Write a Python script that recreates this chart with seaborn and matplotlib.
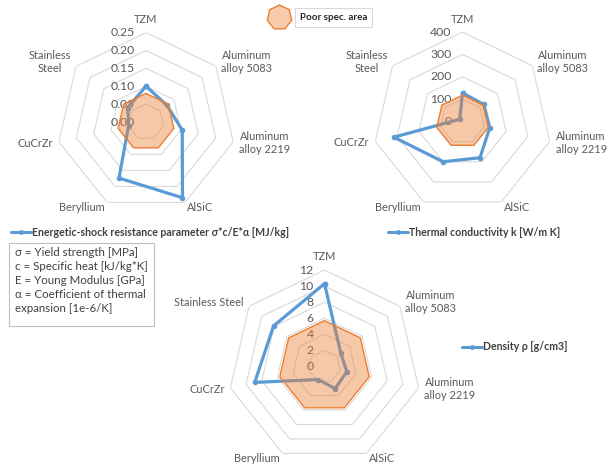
import numpy as np
import pandas as pd
import matplotlib
matplotlib.use("Agg")
import matplotlib.pyplot as plt
import matplotlib.transforms as mtrans
from matplotlib.lines import Line2D
from matplotlib.patches import Rectangle
from matplotlib.font_manager import FontProperties
import seaborn as sns

# ---------------- data ----------------
labels_top = ["TZM", "Aluminum\nalloy 5083", "Aluminum\nalloy 2219", "AlSiC",
              "Beryllium", "CuCrZr", "Stainless\nSteel"]
labels_bottom = ["TZM", "Aluminum\nalloy 5083", "Aluminum\nalloy 2219", "AlSiC",
                 "Beryllium", "CuCrZr", "Stainless Steel"]

shock_values = [0.10, 0.075, 0.104, 0.235, 0.174, 0.05, 0.065]
shock_poor = [0.08] * 7
shock_ticks = [0.00, 0.05, 0.10, 0.15, 0.20, 0.25]

thermal_values = [128, 122, 125, 180, 200, 315, 16]
thermal_poor = [118] * 7
thermal_ticks = [0, 100, 200, 300, 400]

density_values = [10.3, 2.6, 2.85, 3.05, 1.8, 8.9, 8.1]
density_poor = [5.7] * 7
density_ticks = [0, 2, 4, 6, 8, 10, 12]

shock_name = "Energetic-shock resistance parameter σ*c/E*α [MJ/kg]"
thermal_name = "Thermal conductivity k [W/m K]"
density_name = "Density ρ [g/cm3]"
poor_name = "Poor spec. area"
note_text = ("σ = Yield strength [MPa]\n"
             "c = Specific heat [kJ/kg*K]\n"
             "E = Young Modulus [GPa]\n"
             "α = Coefficient of thermal\n"
             "expansion [1e-6/K]")

# ---------------- style ----------------
sns.set_theme(style="white")
FAM = ["Lato", "DejaVu Sans"]
plt.rcParams["font.family"] = FAM

BLUE = "#5B9BD5"
ORANGE = "#ED7D31"
GRID = "#D9D9D9"
TXT = "#595959"

W, H = 610, 466
fig = plt.figure(figsize=(W / 100, H / 100), dpi=100)


def px_axes(cx, cy, R):
    return fig.add_axes([(cx - R) / W, (H - cy - R) / H, 2 * R / W, 2 * R / H],
                        projection="polar")


def radar(ax, values, poor, ticks, fmt, labels):
    n = len(values)
    theta = np.arange(n) * 2 * np.pi / n
    th_c = np.append(theta, 2 * np.pi)
    ax.set_theta_zero_location("N")
    ax.set_theta_direction(-1)
    ax.set_ylim(0, ticks[-1])
    ax.grid(False)
    ax.spines["polar"].set_visible(False)
    ax.set_xticks([])
    ax.set_yticks([])
    ax.patch.set_alpha(0)
    for t in ticks[1:]:
        ax.plot(th_c, np.full(n + 1, t), color=GRID, lw=0.8, zorder=1)
    df = pd.DataFrame({"theta": th_c, "r": np.append(values, values[0])})
    sns.lineplot(data=df, x="theta", y="r", ax=ax, sort=False, color=BLUE,
                 lw=2.3, marker="o", markersize=4, markeredgewidth=0, zorder=3)
    ax.fill(th_c, np.append(poor, poor[0]),
            facecolor=(237 / 255, 125 / 255, 49 / 255, 0.42),
            edgecolor=ORANGE, lw=1, zorder=5)
    ax.set_xlabel("")
    ax.set_ylabel("")
    off = mtrans.offset_copy(ax.transData, fig=fig, x=-11, y=0, units="dots")
    for t in ticks:
        ax.text(0, t, fmt.format(t), transform=off, ha="right", va="center",
                fontsize=8.8, color=TXT, zorder=2, clip_on=False)
    for th, lab in zip(theta, labels):
        s, c = np.sin(th), np.cos(th)
        ha = "left" if s > 0.1 else ("right" if s < -0.1 else "center")
        dist = 6 + 7 * max(c, 0) ** 6
        ax.annotate(lab, xy=(th, ticks[-1]), xytext=(dist * s, dist * c),
                    textcoords="offset pixels", ha=ha, va="center",
                    multialignment="center", fontsize=7.9, color=TXT,
                    annotation_clip=False)


ax1 = px_axes(146, 122, 89.4)
radar(ax1, shock_values, shock_poor, shock_ticks, "{:.2f}", labels_top)
ax2 = px_axes(462.5, 121.5, 89.4)
radar(ax2, thermal_values, thermal_poor, thermal_ticks, "{:.0f}", labels_top)
ax3 = px_axes(324.5, 366.5, 96.5)
radar(ax3, density_values, density_poor, density_ticks, "{:.0f}", labels_bottom)

# ---------------- legends ----------------
lprop = FontProperties(family=FAM, weight="bold", size=7.6)


def series_legend(name, cx, cy):
    h = Line2D([], [], color=BLUE, lw=2.2, marker="o", markersize=3.5,
               markeredgewidth=0)
    fig.legend(handles=[h], labels=[name], loc="center",
               bbox_to_anchor=(cx / W, 1 - cy / H), frameon=False, prop=lprop,
               handlelength=1.9, handletextpad=0.1, labelcolor="#404040",
               borderpad=0, borderaxespad=0)


series_legend(shock_name, 150, 232)
series_legend(thermal_name, 474, 232)
series_legend(density_name, 515, 347)

ph = Line2D([], [], linestyle="none", marker=(7, 0, 0), markersize=18,
            markerfacecolor="#F8CBAD", markeredgecolor=ORANGE, markeredgewidth=1)
pleg = fig.legend(handles=[ph], labels=[poor_name], loc="center left",
                  bbox_to_anchor=(273 / W, 1 - 17.5 / H), frameon=False,
                  prop=FontProperties(family=FAM, weight="bold", size=7.1),
                  handlelength=1.2, handletextpad=1.5, labelcolor="#262626",
                  borderpad=0, borderaxespad=0)
pleg.get_texts()[0].set_bbox(dict(boxstyle="square,pad=0.5", fc="white",
                                  ec="#D9D9D9", lw=0.8))

# ---------------- note box ----------------
fig.add_artist(Rectangle((9 / W, 1 - 326 / H), 145 / W, 83 / H,
                         transform=fig.transFigure, fc="white", ec="#BFBFBF",
                         lw=0.8))
fig.text(15 / W, 1 - 247.5 / H, note_text, ha="left", va="top", fontsize=8.3,
         color="#404040", linespacing=1.33)

fig.savefig("out.png", dpi=100)
